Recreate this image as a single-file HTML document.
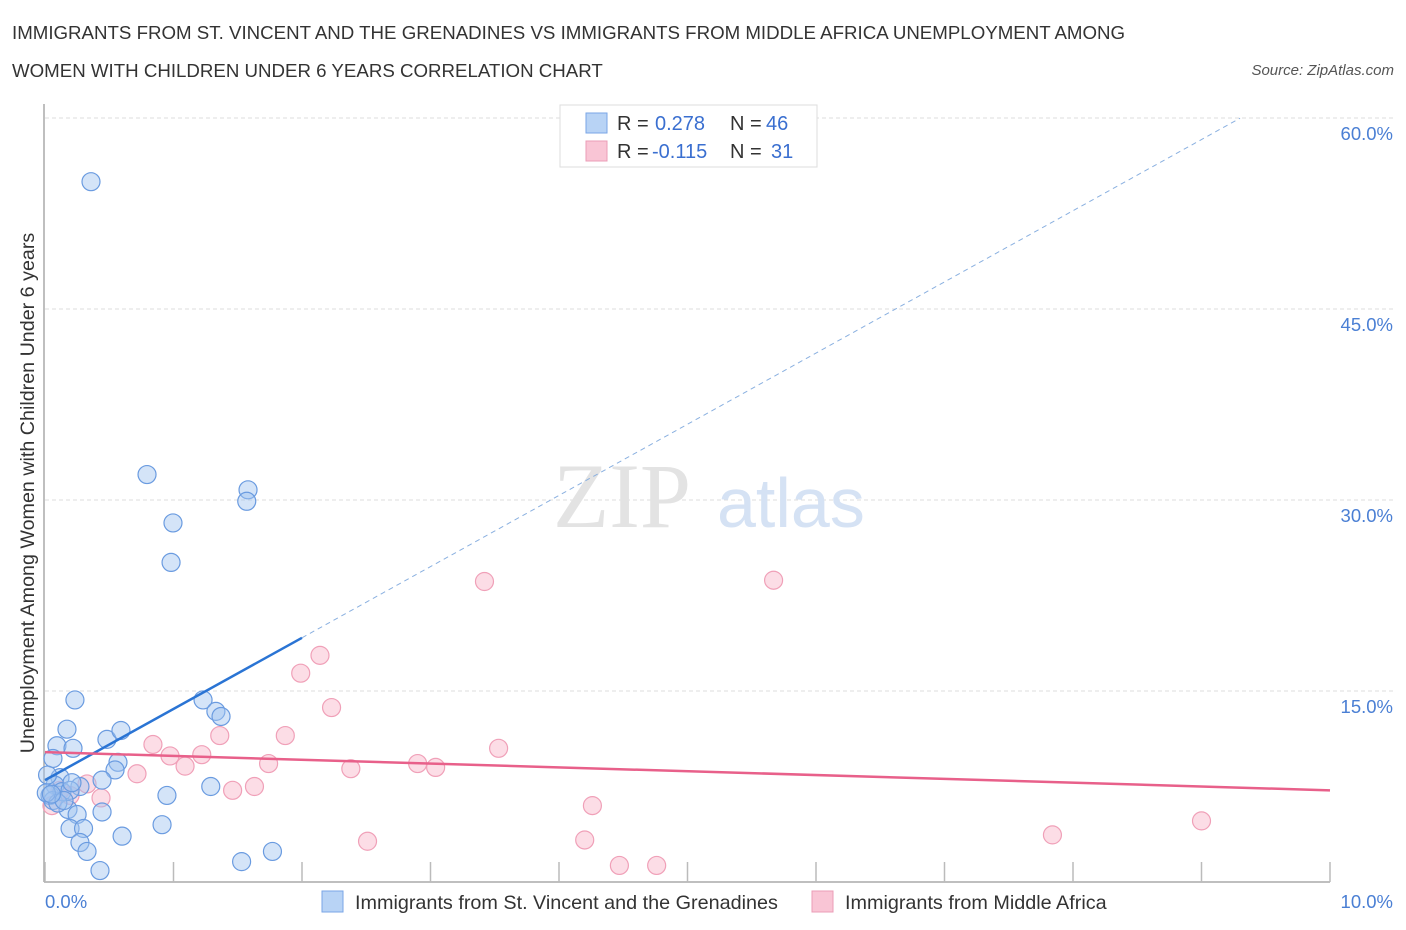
<!DOCTYPE html>
<html><head><meta charset="utf-8"><style>
body{margin:0;background:#fff;font-family:"Liberation Sans",sans-serif;}
#wrap{position:relative;width:1406px;height:930px;}
.t{position:absolute;white-space:nowrap;}
</style></head><body>
<div id="wrap">
<div class="t" style="left:12px;top:14px;font-size:18.7px;color:#333;line-height:38px;">IMMIGRANTS FROM ST. VINCENT AND THE GRENADINES VS IMMIGRANTS FROM MIDDLE AFRICA UNEMPLOYMENT AMONG<br>WOMEN WITH CHILDREN UNDER 6 YEARS CORRELATION CHART</div>
<div class="t" style="right:12px;top:62px;font-size:15px;font-style:italic;color:#555;">Source: ZipAtlas.com</div>
<svg id="svg" width="1406" height="930" style="position:absolute;left:0;top:0"></svg>
</div>
<script>
const blueX=[0.358,0.794,0.996,0.981,1.58,1.57,0.233,0.171,0.093,0.218,0.062,0.482,0.591,1.23,1.33,1.37,0.568,0.545,0.444,0.272,0.117,0.078,0.039,0.062,0.132,0.195,0.949,1.29,0.179,0.25,0.444,0.195,0.30,0.911,0.60,0.272,0.327,1.53,1.77,0.428,0.10,0.02,0.148,0.01,0.21,0.05];
const blueY=[55.0,32.0,28.2,25.1,30.8,29.9,14.3,12.0,10.7,10.5,9.7,11.2,11.9,14.3,13.4,13.0,9.4,8.8,8.0,7.5,8.2,7.6,6.8,6.4,7.1,7.2,6.8,7.5,5.7,5.3,5.5,4.2,4.2,4.5,3.6,3.1,2.4,1.6,2.4,0.9,6.2,8.4,6.4,7.0,7.8,6.9];
const pinkX=[5.67,3.42,2.14,1.99,2.23,1.36,1.87,0.84,3.53,1.22,0.973,1.09,1.74,2.90,3.04,2.38,0.716,0.327,1.46,1.63,0.436,4.26,7.84,9.0,2.51,4.20,4.47,4.76,0.054,0.195,0.117];
const pinkY=[23.7,23.6,17.8,16.4,13.7,11.5,11.5,10.8,10.5,10.0,9.9,9.1,9.3,9.3,9.0,8.9,8.5,7.7,7.2,7.5,6.6,6.0,3.7,4.8,3.2,3.3,1.3,1.3,6.0,6.8,7.2];
const yTicks=[15,30,45,60];
const yTickLabels=["15.0%","30.0%","45.0%","60.0%"];
const blueTrend=[8.0,5.59];
const pinkTrend=[10.2,7.2];
const svg=document.getElementById('svg');const NS='http://www.w3.org/2000/svg';
const X=v=>45+v*128.5, Y=v=>882-v*12.733;
function mk(t,a){const e=document.createElementNS(NS,t);for(const k in a)e.setAttribute(k,a[k]);svg.appendChild(e);return e;}
yTicks.forEach((v,i)=>{
 let g=mk('line',{x1:45,x2:1395,y1:Y(v),y2:Y(v),stroke:'#ddd','stroke-dasharray':'4,3'});
 
 
 let t=mk('text',{x:1393,y:Y(v)+22,'text-anchor':'end','font-size':18.5,fill:'#4a7fd4','font-family':'Liberation Sans, sans-serif'});t.textContent=yTickLabels[i];
 
 
});
let w1=mk('text',{x:553,y:527,'font-size':92,fill:'#e3e3e3','font-family':'Liberation Serif, serif'});w1.textContent='ZIP';


let w2=mk('text',{x:717,y:527,'font-size':70,fill:'#d5e2f4','font-family':'Liberation Sans, sans-serif'});w2.textContent='atlas';


let ax=mk('line',{x1:44,x2:44,y1:104,y2:882,stroke:'#aaa','stroke-width':1.5});


let bx=mk('line',{x1:44,x2:1330,y1:882,y2:882,stroke:'#aaa','stroke-width':1.5});


for(let i=0;i<=10;i++){let tk=mk('line',{x1:X(i),x2:X(i),y1:862,y2:882,stroke:'#bbb','stroke-width':1.5});
 
 }
[[0,'0.0%','start',45],[10,'10.0%','end',1393]].forEach(a=>{let t=mk('text',{x:a[3],y:908,'text-anchor':a[2],'font-size':18.5,fill:'#4a7fd4','font-family':'Liberation Sans, sans-serif'});t.textContent=a[1];
 
 });
let yt=mk('text',{x:0,y:0,'font-size':19.7,fill:'#333','font-family':'Liberation Sans, sans-serif','text-anchor':'middle',transform:'translate(34,493) rotate(-90)'});yt.textContent='Unemployment Among Women with Children Under 6 years';


pinkX.forEach((x,i)=>{let c=mk('circle',{cx:X(x),cy:Y(pinkY[i]),r:9,fill:'rgba(248,180,200,0.45)',stroke:'#f0a0b8','stroke-width':1.2});
 
 });
blueX.forEach((x,i)=>{let c=mk('circle',{cx:X(x),cy:Y(blueY[i]),r:9,fill:'rgba(160,195,240,0.45)',stroke:'#6a9be0','stroke-width':1.2});
 
 });
let bs=mk('line',{x1:X(0),y1:Y(blueTrend[0]),x2:X(2),y2:Y(blueTrend[0]+2*blueTrend[1]),stroke:'#2a74d4','stroke-width':2.5});


let bd=mk('line',{x1:X(2),y1:Y(blueTrend[0]+2*blueTrend[1]),x2:X(9.3),y2:Y(blueTrend[0]+9.3*blueTrend[1]),stroke:'#8ab0e0','stroke-width':1,'stroke-dasharray':'5,4'});


let pl=mk('line',{x1:X(0),y1:Y(pinkTrend[0]),x2:X(10),y2:Y(pinkTrend[1]),stroke:'#e8608a','stroke-width':2.5});


let lb=mk('rect',{x:560,y:105,width:257,height:62,fill:'#fff',stroke:'#ddd'});


[[123,'#b8d3f5','#7aa6e6','0.278','46'],[151,'#f9c5d5','#eb9db7','-0.115','31']].forEach(r=>{
 let s=mk('rect',{x:586,y:r[0]-10,width:21,height:20,fill:r[1],stroke:r[2]});
 
 
 let t=mk('text',{x:617,y:r[0]+7,'font-size':20,fill:'#333','font-family':'Liberation Sans, sans-serif'});
 t.innerHTML='R = <tspan fill="#3a6fd0" x="'+(r[3][0]=='-'?652:655)+'">'+r[3]+'</tspan><tspan x="730">N = </tspan><tspan fill="#3a6fd0" x="'+(r[4]=='31'?771:766)+'">'+r[4]+'</tspan>';
 
 
});
[[322,'#b8d3f5','#7aa6e6',355,'Immigrants from St. Vincent and the Grenadines'],[812,'#f9c5d5','#eb9db7',845,'Immigrants from Middle Africa']].forEach(r=>{
 let s=mk('rect',{x:r[0],y:891,width:21,height:21,fill:r[1],stroke:r[2]});
 
 
 let t=mk('text',{x:r[3],y:909,'font-size':19.8,fill:'#333','font-family':'Liberation Sans, sans-serif'});t.textContent=r[4];
 
 
});
</script>
</body></html>
